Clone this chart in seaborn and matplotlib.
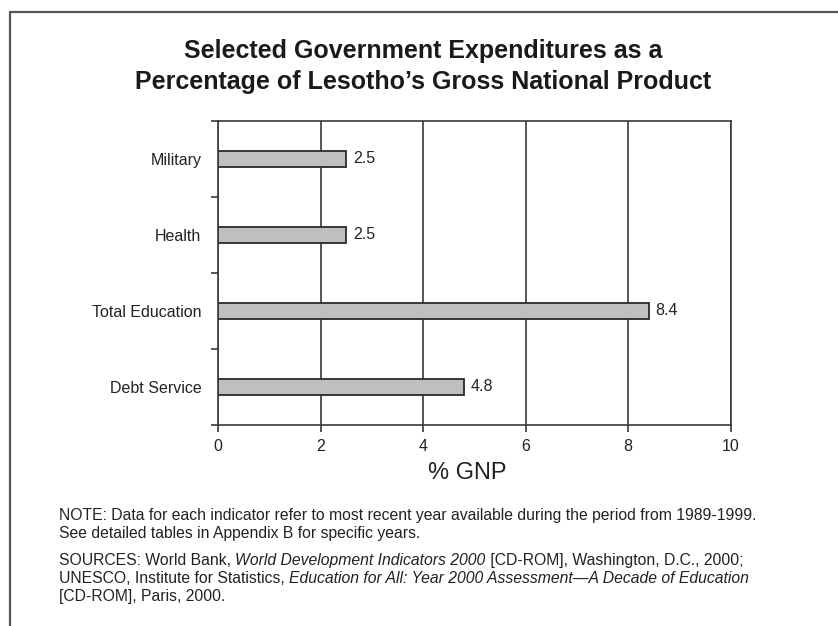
import matplotlib
matplotlib.use("Agg")
import matplotlib.pyplot as plt
import seaborn as sns
import pandas as pd
from matplotlib.lines import Line2D

categories = ["Military", "Health", "Total Education", "Debt Service"]
values = [2.5, 2.5, 8.4, 4.8]
value_labels = ["2.5", "2.5", "8.4", "4.8"]
x_ticks = [0, 2, 4, 6, 8, 10]
title_lines = ["Selected Government Expenditures as a",
               "Percentage of Lesotho\u2019s Gross National Product"]
x_label = "% GNP"

sns.set_theme(style="white")
plt.rcParams["font.family"] = ["Liberation Sans", "DejaVu Sans"]

W, H = 838, 626
fig = plt.figure(figsize=(W / 100, H / 100), dpi=100)
fig.patch.set_facecolor("white")

def fx(px):
    return px / W

def fy(py):
    return 1 - py / H

dark = "#222222"
linec = "#3a3a3a"

ax = fig.add_axes([fx(218), fy(425), fx(730.5) - fx(218), fy(120.5) - fy(425)])
df = pd.DataFrame({"category": categories, "value": values})
sns.barplot(data=df, x="value", y="category", orient="h", ax=ax, width=0.21,
            color="#bebfc1", edgecolor="#2a2a2a", linewidth=1.3, saturation=1)
for p in ax.patches:
    p.set_facecolor("#bebfc1")

ax.set_xlim(0, 10)
ax.set_ylim(3.5, -0.5)
ax.set_xticks(x_ticks)
ax.set_xticklabels([str(t) for t in x_ticks], fontsize=11.5, color=dark)
ax.set_yticks(range(len(categories)))
ax.set_yticklabels(categories, fontsize=11.5, color=dark)
ax.set_yticks([-0.5, 0.5, 1.5, 2.5, 3.5], minor=True)
ax.tick_params(axis="y", which="major", length=0, pad=12)
ax.tick_params(axis="y", which="minor", length=5, width=1.2, color=linec, left=True)
ax.tick_params(axis="x", which="major", length=5, width=1.2, color=linec, bottom=True, pad=5)
ax.set_xlabel(x_label, fontsize=17, color=dark)
ax.xaxis.set_label_coords((467 - 218) / 512.5, -(479 - 425) / 304.5)
ax.xaxis.label.set_va("baseline")
ax.set_ylabel("")
ax.grid(axis="x", color=linec, linewidth=1.2)
ax.grid(axis="y", visible=False)
ax.set_axisbelow(True)
for s in ax.spines.values():
    s.set_visible(True)
    s.set_color(linec)
    s.set_linewidth(1.2)

for i, (v, lab) in enumerate(zip(values, value_labels)):
    ax.text(v + 0.13, i, lab, va="center", ha="left", fontsize=11.5, color=dark)

# frame
fig.add_artist(Line2D([fx(9.5), fx(9.5)], [fy(11.5), fy(626)], color="#555555", lw=1.6, transform=fig.transFigure))
fig.add_artist(Line2D([fx(9.5), fx(838)], [fy(11.5), fy(11.5)], color="#555555", lw=1.6, transform=fig.transFigure))

# title
fig.text(fx(423.5), fy(58), title_lines[0], ha="center", va="baseline", fontsize=18,
         fontweight="bold", color="#1a1a1a")
fig.text(fx(423.5), fy(89), title_lines[1], ha="center", va="baseline", fontsize=18,
         fontweight="bold", color="#1a1a1a")

# notes with mixed styles
renderer = fig.canvas.get_renderer()
note_fs = 11.3

def write_line(parts, x0, base):
    x = x0
    for txt, style in parts:
        t = fig.text(fx(x), fy(base), txt, ha="left", va="baseline", fontsize=note_fs,
                     style=style, color=dark)
        bb = t.get_window_extent(renderer=renderer)
        x += bb.width

notes = [
    ([("NOTE: Data for each indicator refer to most recent year available during the period from 1989-1999.", "normal")], 520),
    ([("See detailed tables in Appendix B for specific years.", "normal")], 538),
    ([("SOURCES: World Bank, ", "normal"), ("World Development Indicators 2000", "italic"),
      (" [CD-ROM], Washington, D.C., 2000;", "normal")], 565),
    ([("UNESCO, Institute for Statistics, ", "normal"),
      ("Education for All: Year 2000 Assessment\u2014A Decade of Education", "italic")], 583),
    ([("[CD-ROM], Paris, 2000.", "normal")], 601),
]
for parts, base in notes:
    write_line(parts, 59, base)

fig.savefig("out.png", dpi=100, facecolor="white")
